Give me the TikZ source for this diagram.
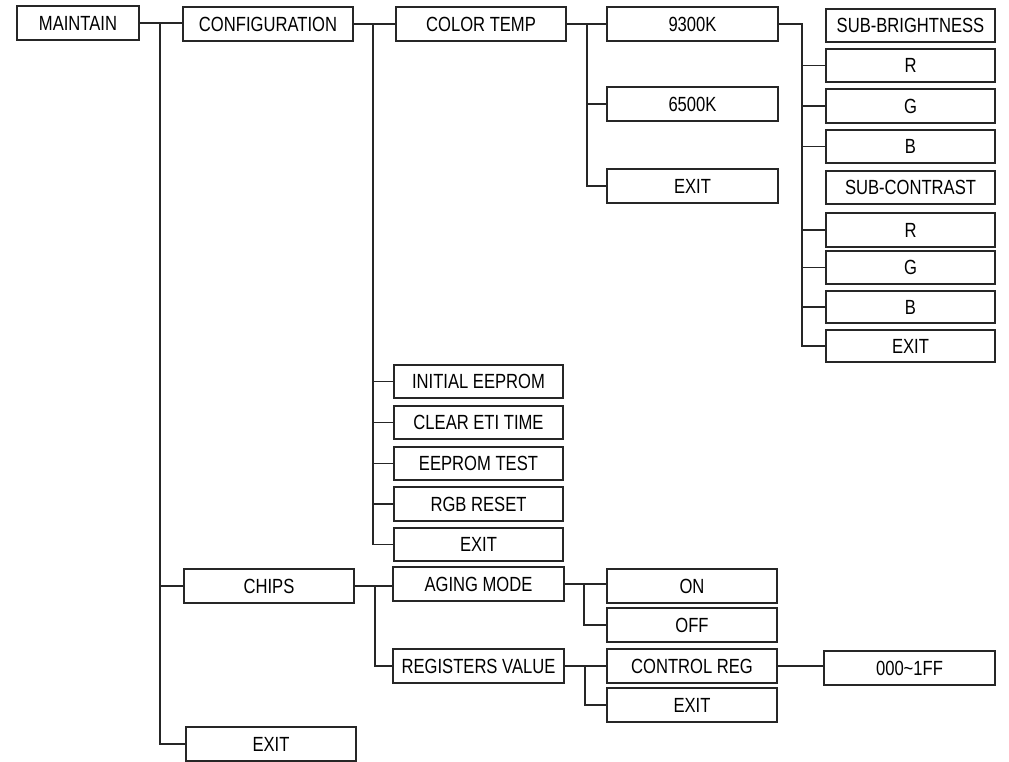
\documentclass[tikz,border=0pt]{standalone}
\usepackage{fontspec}
\setmainfont{Liberation Sans}[FakeStretch=0.81]
\tikzset{
  box/.style={draw=black!85, line width=1.2pt, inner sep=0pt, fill=white,
    text height=14.6pt, text depth=0pt,
    font=\fontsize{20.5}{23}\selectfont},
  wire/.style={draw=black!85, line width=1.2pt}
}
\newcommand\mybox[6]{%
  \pgfmathsetmacro\mycx{(#2+#4)/2}%
  \pgfmathsetmacro\mycy{(#3+#5)/2}%
  \pgfmathsetmacro\myww{#4-#2}%
  \pgfmathsetmacro\myhh{#5-#3}%
  \node[box, minimum width=\myww pt, minimum height=\myhh pt] (#1) at (\mycx,\mycy) {#6};}
\begin{document}
\begin{tikzpicture}[x=1pt,y=-1pt]
\useasboundingbox (0,0) rectangle (1009,762);
% column 1
\mybox{maint}{17}{6}{139}{40}{MAINTAIN}
% column 2
\mybox{conf}{183}{7}{353}{41}{CONFIGURATION}
\mybox{chips}{184}{569}{354}{603}{CHIPS}
\mybox{exitm}{186}{727}{356}{761}{EXIT}
% column 3
\mybox{ctemp}{396}{7}{566}{41}{COLOR TEMP}
\mybox{initee}{394}{365}{563}{398}{INITIAL EEPROM}
\mybox{clreti}{394}{406}{563}{439}{CLEAR ETI TIME}
\mybox{eetest}{394}{447}{563}{480}{EEPROM TEST}
\mybox{rgbrst}{394}{487}{563}{521}{RGB RESET}
\mybox{exitc}{394}{528}{563}{561}{EXIT}
\mybox{aging}{393}{567}{564}{601}{AGING MODE}
\mybox{regval}{393}{649}{564}{683}{REGISTERS VALUE}
% column 4
\mybox{k93}{607}{7}{778}{41}{9300K}
\mybox{k65}{607}{87}{778}{121}{6500K}
\mybox{exitt}{607}{169}{778}{203}{EXIT}
\mybox{on}{607}{569}{777}{603}{ON}
\mybox{off}{607}{608}{777}{642}{OFF}
\mybox{ctrl}{607}{649}{777}{683}{CONTROL REG}
\mybox{exitr}{607}{688}{777}{722}{EXIT}
% column 5
\mybox{subb}{826}{9}{995}{42}{SUB-BRIGHTNESS}
\mybox{rb}{826}{49}{995}{82}{R}
\mybox{gb}{826}{89}{995}{123}{G}
\mybox{bb}{826}{130}{995}{163}{B}
\mybox{subc}{826}{171}{995}{204}{SUB-CONTRAST}
\mybox{rc}{826}{213}{995}{247}{R}
\mybox{gc}{826}{251}{995}{284}{G}
\mybox{bc}{826}{291}{995}{323}{B}
\mybox{exitk}{826}{330}{995}{362}{EXIT}
\mybox{hex}{824}{651}{995}{685}{000\char`\~1FF}
% bus positions
\coordinate (bm) at (160,0);
\coordinate (bconf) at (373,0);
\coordinate (bct) at (587,0);
\coordinate (bk) at (802,0);
\coordinate (bch) at (375,0);
\coordinate (bag) at (584,0);
\coordinate (brv) at (585,0);
% MAINTAIN
\draw[wire] (maint.east) -- (maint.east -| conf.west);
\draw[wire] (bm |- maint.east) |- (chips.west);
\draw[wire] (bm |- maint.east) |- (exitm.west);
% CONFIGURATION
\draw[wire] (conf.east) -- (ctemp.west);
\foreach \n in {initee,clreti,eetest,rgbrst,exitc}
  \draw[wire] (bconf |- conf.east) |- (\n.west);
% COLOR TEMP
\draw[wire] (ctemp.east) -- (k93.west);
\foreach \n in {k65,exitt}
  \draw[wire] (bct |- ctemp.east) |- (\n.west);
% 9300K
\foreach \n in {rb,gb,bb,rc,gc,bc,exitk}
  \draw[wire] (k93.east) -| (bk |- \n.west) -- (\n.west);
% CHIPS
\draw[wire] (chips.east) -- (chips.east -| aging.west);
\draw[wire] (bch |- chips.east) |- (regval.west);
% AGING MODE
\draw[wire] (aging.east) -- (aging.east -| on.west);
\draw[wire] (bag |- aging.east) |- (off.west);
% REGISTERS VALUE
\draw[wire] (regval.east) -- (ctrl.west);
\draw[wire] (brv |- regval.east) |- (exitr.west);
% CONTROL REG
\draw[wire] (ctrl.east) -- (ctrl.east -| hex.west);
\end{tikzpicture}
\end{document}
